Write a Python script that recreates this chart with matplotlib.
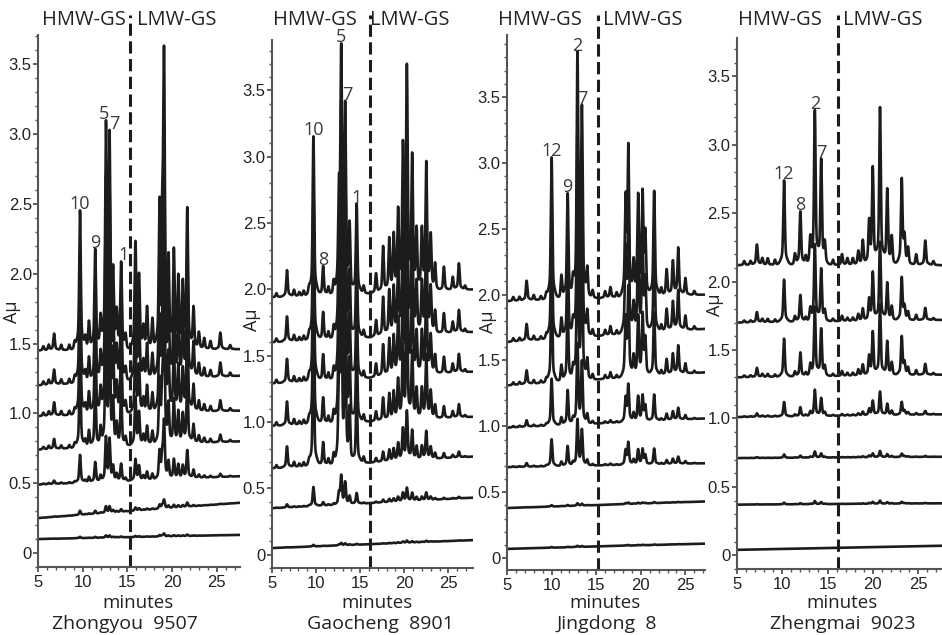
import numpy as np
import matplotlib
matplotlib.use("Agg")
import matplotlib.pyplot as plt
from matplotlib.ticker import MultipleLocator, FuncFormatter

W, H = 942, 635

# cultivar under each panel
cultivars = ["Zhongyou  9507", "Gaocheng  8901", "Jingdong  8", "Zhengmai  9023"]

# HMW-GS / LMW-GS boundary, minutes
dividers = [15.3, 16.1, 15.2, 16.2]

# ---- Zhongyou 9507: peaks of the top trace (min, height above baseline) ----
zy_times = [5.6, 6.2, 6.8, 7.6, 8.5, 9.1, 9.7, 10.3, 10.7, 11.4, 12.0, 12.6, 13.0,
            13.4, 13.8, 14.3, 14.8, 15.9, 16.3, 16.8, 17.2, 17.8, 18.6, 18.9,
            19.1, 19.6, 20.2, 20.7, 21.2, 21.7, 22.4, 23.0, 23.6, 24.3, 25.4, 26.5]
zy_heights = [0.03, 0.04, 0.12, 0.04, 0.04, 0.05, 1.0, 0.08, 0.2, 0.72, 0.22, 1.55, 1.45,
              0.5, 0.25, 0.62, 0.1, 0.75, 0.5, 0.15, 0.3, 0.22, 0.95, 0.75,
              2.0, 0.6, 0.7, 0.5, 0.45, 1.0, 0.3, 0.12, 0.08, 0.06, 0.12, 0.03]
zy_labels = ["10", "9", "5", "7", "1"]
zy_label_times = [9.7, 11.4, 12.6, 13.0, 14.3]
zy_base_start = [0.10, 0.25, 0.49, 0.74, 0.98, 1.20, 1.45]
zy_base_end = [0.13, 0.36, 0.55, 0.80, 1.02, 1.27, 1.46]
zy_hmw_scale = [0.01, 0.03, 0.2, 0.6, 0.8, 0.9, 1.0]
zy_lmw_scale = [0.01, 0.03, 0.2, 0.45, 0.65, 0.85, 1.0]

# ---- Gaocheng 8901 ----
gc_times = [5.5, 6.7, 7.5, 8.1, 8.6, 9.2, 9.7, 10.8, 11.4, 12.0, 12.6, 12.85, 13.3,
            13.8, 14.6, 15.4, 16.8, 17.6, 18.3, 18.8, 19.3, 19.85, 20.3, 20.9,
            21.4, 22.0, 22.5, 23.0, 23.5, 24.5, 25.5, 26.2, 26.9]
gc_heights = [0.03, 0.2, 0.05, 0.03, 0.04, 0.04, 1.2, 0.22, 0.06, 0.1, 0.7, 1.75, 1.35,
              0.5, 0.68, 0.06, 0.15, 0.35, 0.4, 0.42, 0.6, 1.05, 1.65, 1.0,
              0.45, 0.45, 0.95, 0.4, 0.2, 0.18, 0.1, 0.2, 0.03]
gc_labels = ["10", "8", "5", "7", "1"]
gc_label_times = [9.7, 10.8, 12.85, 13.3, 14.6]
gc_base_start = [0.05, 0.35, 0.65, 0.97, 1.29, 1.60, 1.94]
gc_base_end = [0.11, 0.43, 0.74, 1.04, 1.38, 1.68, 2.0]
gc_hmw_scale = [0.01, 0.12, 0.8, 0.9, 0.9, 0.95, 1.0]
gc_lmw_scale = [0.01, 0.06, 0.22, 0.5, 0.7, 0.85, 1.0]

# ---- Jingdong 8 ----
jd_times = [5.7, 6.4, 7.2, 8.0, 8.8, 9.4, 10.0, 11.1, 11.8, 12.4, 12.9, 13.4, 14.0,
            14.6, 16.0, 16.6, 17.3, 18.3, 18.6, 19.2, 19.7, 20.2, 20.5, 21.5,
            22.3, 22.9, 23.6, 24.2, 25.0, 26.0]
jd_heights = [0.03, 0.03, 0.15, 0.04, 0.03, 0.04, 1.08, 0.18, 0.8, 0.12, 1.82, 1.4, 0.22,
              0.06, 0.05, 0.08, 0.04, 0.7, 1.1, 0.25, 0.75, 0.75, 0.45, 0.8,
              0.06, 0.2, 0.26, 0.36, 0.13, 0.03]
jd_labels = ["12", "9", "2", "7"]
jd_label_times = [10.0, 11.8, 12.9, 13.4]
jd_base_start = [0.07, 0.38, 0.69, 0.99, 1.31, 1.64, 1.95]
jd_base_end = [0.11, 0.43, 0.72, 1.06, 1.41, 1.74, 2.0]
jd_hmw_scale = [0.005, 0.01, 0.19, 0.33, 0.7, 0.85, 1.0]
jd_lmw_scale = [0.005, 0.01, 0.15, 0.25, 0.6, 0.85, 1.0]

# ---- Zhengmai 9023 ----
zm_times = [5.8, 6.5, 7.2, 7.8, 8.4, 9.2, 10.2, 11.4, 12.0, 12.6, 13.1, 13.6, 14.3,
            14.7, 15.6, 16.6, 17.2, 17.8, 18.4, 18.9, 19.6, 20.0, 20.8, 21.6,
            22.1, 23.2, 23.5, 23.9, 24.8, 25.8, 26.7]
zm_heights = [0.03, 0.03, 0.15, 0.05, 0.05, 0.04, 0.62, 0.08, 0.39, 0.06, 0.18, 1.12, 0.76,
              0.14, 0.04, 0.08, 0.05, 0.05, 0.1, 0.18, 0.3, 0.7, 1.15, 0.55,
              0.2, 0.62, 0.18, 0.12, 0.08, 0.18, 0.03]
zm_labels = ["12", "8", "2", "7"]
zm_label_times = [10.2, 12.0, 13.6, 14.3]
zm_base_start = [0.04, 0.37, 0.71, 1.01, 1.30, 1.70, 2.12]
zm_base_end = [0.07, 0.38, 0.72, 1.03, 1.32, 1.72, 2.12]
zm_hmw_scale = [0.0, 0.02, 0.04, 0.17, 0.45, 0.5, 1.0]
zm_lmw_scale = [0.0, 0.02, 0.04, 0.15, 0.45, 0.5, 1.0]

panels = [
    (zy_times, zy_heights, zy_labels, zy_label_times, zy_base_start, zy_base_end, zy_hmw_scale, zy_lmw_scale),
    (gc_times, gc_heights, gc_labels, gc_label_times, gc_base_start, gc_base_end, gc_hmw_scale, gc_lmw_scale),
    (jd_times, jd_heights, jd_labels, jd_label_times, jd_base_start, jd_base_end, jd_hmw_scale, jd_lmw_scale),
    (zm_times, zm_heights, zm_labels, zm_label_times, zm_base_start, zm_base_end, zm_hmw_scale, zm_lmw_scale),
]

# layout in pixels: left, right, top, bottom, x max, y min, y max
boxes = [
    (38, 240, 35, 567, 27.6, -0.10, 3.71),
    (272, 473, 40, 568, 27.8, -0.10, 3.88),
    (507, 705, 35, 570, 27.2, -0.09, 3.97),
    (737, 942, 38, 569, 27.65, -0.10, 3.78),
]
ylab_pos = [(12, 312), (252, 320), (488, 322), (715, 305)]
hmw_pos = [(84, 177), (315, 410), (540, 643), (780, 883)]
minutes_x = [138, 377, 605, 842]
title_x = [125, 380, 607, 843]
label_dx = {(0, "5"): -2, (0, "7"): 5, (0, "1"): 2, (1, "7"): 2}

ink = "#1c1c1c"
text_font = "Open Sans"
tick_font = "Liberation Sans"


def fx(x):
    return x / W


def fy(y):
    return 1 - y / H


def peaks(t, times, heights):
    y = np.zeros_like(t)
    for c, h in zip(times, heights):
        y += h * (0.85 * np.exp(-0.5 * ((t - c) / 0.08) ** 2)
                  + 0.15 * np.exp(-0.5 * ((t - c) / 0.3) ** 2))
    return y


fig = plt.figure(figsize=(W / 100, H / 100), dpi=100)

for i, (times, heights, labels, label_times, b0, b1, hs, ls) in enumerate(panels):
    left, right, top, bottom, xmax, ymin, ymax = boxes[i]
    ax = fig.add_axes([fx(left), fy(bottom), (right - left) / W, (bottom - top) / H])
    ax.set_xlim(5, xmax)
    ax.set_ylim(ymin, ymax)

    t = np.linspace(5, xmax, 3000)
    times = np.array(times)
    heights = np.array(heights)
    hmw = times < dividers[i]
    y_h = peaks(t, times[hmw], heights[hmw])
    y_l = peaks(t, times[~hmw], heights[~hmw])

    curves = []
    for k in range(len(b0)):
        base = b0[k] + (b1[k] - b0[k]) * (t - 5) / (xmax - 5)
        y = base + hs[k] * y_h + ls[k] * y_l
        curves.append(y)
        ax.plot(t, y, color=ink, lw=1.9, solid_joinstyle="round")

    # peak labels above the highest trace
    allc = np.array(curves)
    for lab, lt in zip(labels, label_times):
        win = np.abs(t - lt) < 0.12
        top_y = allc[:, win].max()
        ax.annotate(lab, xy=(lt, top_y), xytext=(label_dx.get((i, lab), 0), 1),
                    textcoords="offset pixels", ha="center", va="baseline",
                    fontsize=13, family=text_font, color="#3a3a3a")

    # dashed HMW / LMW divider, running up past the axes
    ext = 1 + (top - 15) / (bottom - top)
    ax.plot([dividers[i], dividers[i]], [0, ext], transform=ax.get_xaxis_transform(),
            color=ink, lw=2.2, linestyle=(0, (4, 1.8)), clip_on=False)

    for s in ["top", "right"]:
        ax.spines[s].set_visible(False)
    for s in ["left", "bottom"]:
        ax.spines[s].set_color("#555555")
        ax.spines[s].set_linewidth(1.5)
    ax.set_xticks([5, 10, 15, 20, 25])
    ax.set_yticks([0, 0.5, 1.0, 1.5, 2.0, 2.5, 3.0, 3.5])
    ax.yaxis.set_major_formatter(FuncFormatter(lambda v, p: "0" if v == 0 else f"{v:.1f}"))
    ax.xaxis.set_minor_locator(MultipleLocator(1))
    ax.yaxis.set_minor_locator(MultipleLocator(0.1))
    ax.tick_params(which="major", length=3.5, width=1.2, color="#444444", pad=1,
                   labelsize=12, labelcolor="#222222")
    ax.tick_params(which="minor", length=2, width=1.0, color="#555555")
    ax.tick_params(axis="x", pad=2)
    for lbl in ax.get_xticklabels() + ax.get_yticklabels():
        lbl.set_family(tick_font)
    ax.patch.set_alpha(0)

    fig.text(fx(ylab_pos[i][0]), fy(ylab_pos[i][1]), "Aμ", rotation=90,
             ha="center", va="center", fontsize=13, family=text_font, color="#222222")
    fig.text(fx(hmw_pos[i][0]), fy(20), "HMW-GS", ha="center", va="center",
             fontsize=14.5, family=text_font, color="#222222")
    fig.text(fx(hmw_pos[i][1]), fy(20), "LMW-GS", ha="center", va="center",
             fontsize=14.5, family=text_font, color="#222222")
    fig.text(fx(minutes_x[i]), fy(603), "minutes", ha="center", va="center",
             fontsize=13.5, family=text_font, color="#222222")
    fig.text(fx(title_x[i]), fy(624), cultivars[i], ha="center", va="center",
             fontsize=14, family=text_font, color="#222222")

fig.savefig("out.png", dpi=100)
